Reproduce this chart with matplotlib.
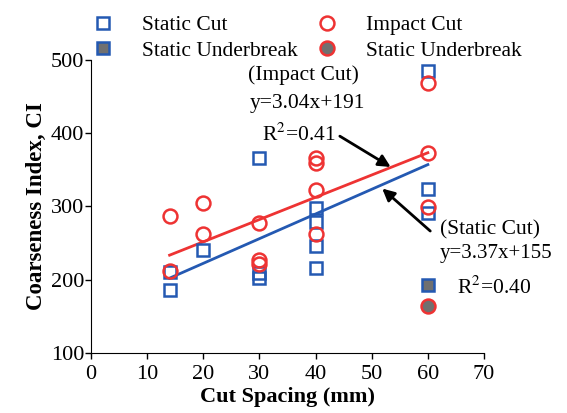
import matplotlib.pyplot as plt
import numpy as np

plt.rcParams['font.family'] = ['Liberation Serif', 'DejaVu Serif']
plt.rcParams['mathtext.fontset'] = 'stix'

# static cut (blue squares)
static_x = [14, 14, 20, 30, 30, 30, 40, 40, 40, 40, 60, 60, 60]
static_y = [186, 211, 240, 366, 209, 203, 298, 279, 246, 216, 485, 324, 291]
# impact cut (red circles)
impact_x = [14, 14, 20, 20, 30, 30, 30, 40, 40, 40, 40, 60, 60, 60]
impact_y = [287, 212, 305, 263, 277, 227, 222, 366, 360, 322, 263, 469, 373, 299]
# underbreak points
sub_x = [60]
sub_y = [193]
iub_x = [60]
iub_y = [164]

# fits
static_fit = (3.37, 155)
impact_fit = (3.04, 191)
fit_x = np.array([14, 60])

blue = '#2459b2'
red = '#ee3333'
grey = '#707070'

fig = plt.figure(figsize=(5.67, 4.13), dpi=100)
ax = fig.add_axes([0.1605, 0.1453, 0.6931, 0.7094])

ax.plot(fit_x, static_fit[0] * fit_x + static_fit[1], color=blue, lw=2, zorder=2)
ax.plot(fit_x, impact_fit[0] * fit_x + impact_fit[1], color=red, lw=2, zorder=2)

h1, = ax.plot(static_x, static_y, 's', ms=8.5, mfc='none', mec=blue, mew=1.8, zorder=3, label='Static Cut')
h3, = ax.plot(impact_x, impact_y, 'o', ms=10, mfc='none', mec=red, mew=1.8, zorder=3, label='Impact Cut')
h2, = ax.plot(sub_x, sub_y, 's', ms=8.5, mfc=grey, mec=blue, mew=1.8, zorder=3, label='Static Underbreak')
h4, = ax.plot(iub_x, iub_y, 'o', ms=10, mfc=grey, mec=red, mew=1.8, zorder=3, label='Static Underbreak')

ax.set_xlim(0, 70)
ax.set_ylim(100, 500)
ax.set_xticks(range(0, 71, 10))
ax.set_yticks(range(100, 501, 100))
ax.spines['top'].set_visible(False)
ax.spines['right'].set_visible(False)
ax.tick_params(labelsize=16, direction='out', length=4, width=1, pad=1)
ax.tick_params(axis='x', pad=4.5)
ax.set_xlabel('Cut Spacing (mm)', fontsize=16, fontweight='bold', labelpad=2.5)
ax.set_ylabel('Coarseness Index, CI', fontsize=16.5, fontweight='bold', labelpad=3)

leg_kw = dict(frameon=False, fontsize=15.5, loc='lower left', handlelength=2,
              handletextpad=0.8, labelspacing=0.25, borderpad=0, borderaxespad=0)
leg1 = ax.legend(handles=[h1, h2], bbox_to_anchor=(-0.024, 0.998), **leg_kw)
ax.add_artist(leg1)
ax.legend(handles=[h3, h4], bbox_to_anchor=(0.546, 0.998), **leg_kw)

# annotations
ax.text(37.8, 479, '(Impact Cut)', fontsize=15.5, ha='center', va='center')
ax.text(38.5, 441, 'y=3.04x+191', fontsize=15.5, ha='center', va='center')
ax.text(37, 398, 'R$^2$=0.41', fontsize=15.5, ha='center', va='center')
ax.annotate('', xy=(53.8, 352), xytext=(43.9, 398),
            arrowprops=dict(arrowstyle='-|>', color='black', lw=2, mutation_scale=18))
ax.annotate('', xy=(51.5, 327), xytext=(60.8, 264),
            arrowprops=dict(arrowstyle='-|>', color='black', lw=2, mutation_scale=18))
ax.text(62.2, 268, '(Static Cut)', fontsize=15.5, ha='left', va='center')
ax.text(62.2, 236, 'y=3.37x+155', fontsize=15, ha='left', va='center')
ax.text(65.2, 189, 'R$^2$=0.40', fontsize=15.5, ha='left', va='center')

fig.savefig('out.png', dpi=100)
